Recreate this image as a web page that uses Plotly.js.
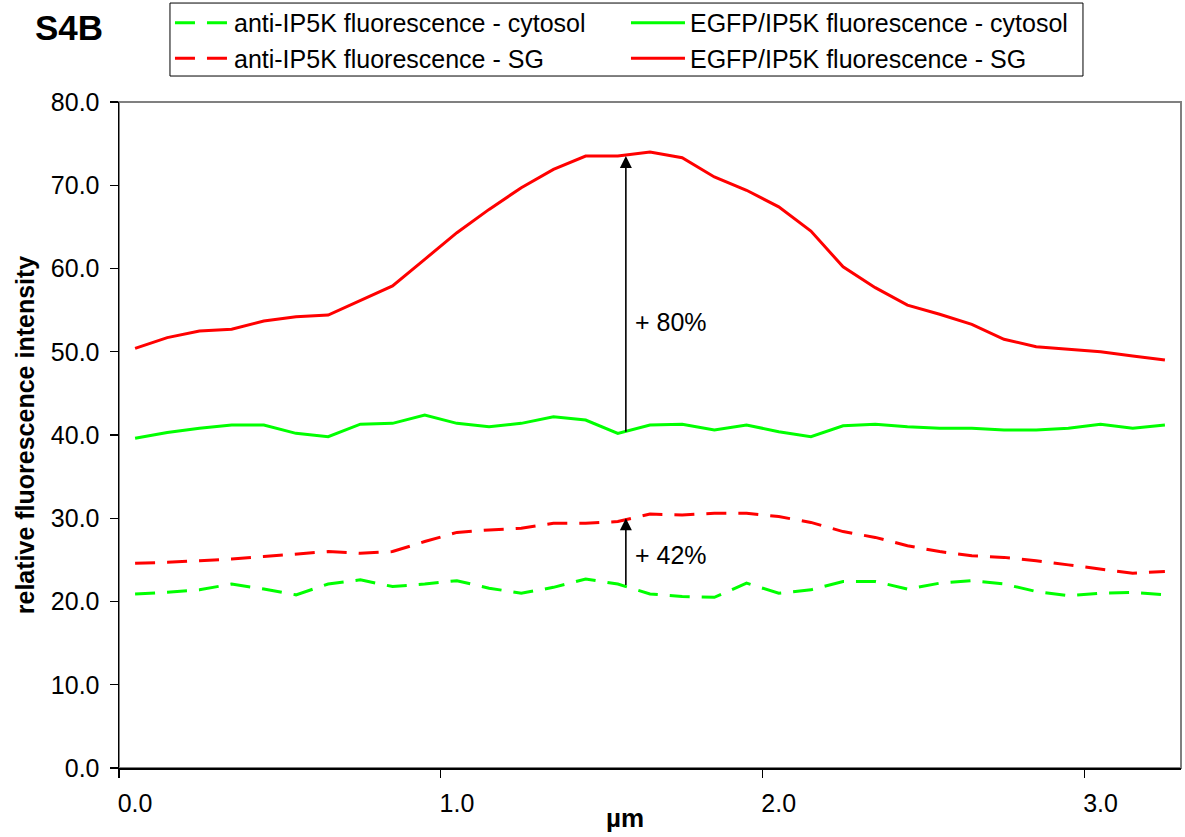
<!DOCTYPE html>
<html><head><meta charset="utf-8">
<script src="https://cdn.plot.ly/plotly-3.0.1.min.js"></script>
<style>html,body{margin:0;padding:0;background:#fff}</style>
</head><body><div id="chart" style="width:1185px;height:837px"></div>
<script>
// distance along the line scan (µm)
const distance = [0.0,0.1,0.2,0.3,0.4,0.5,0.6,0.7,0.8,0.9,1.0,1.1,1.2,1.3,1.4,1.5,1.6,1.7,1.8,1.9,2.0,2.1,2.2,2.3,2.4,2.5,2.6,2.7,2.8,2.9,3.0,3.1,3.2];

const seriesNames = [
  'anti-IP5K fluorescence - cytosol',
  'EGFP/IP5K fluorescence - cytosol',
  'anti-IP5K fluorescence - SG',
  'EGFP/IP5K fluorescence - SG'
];

const antiCytosol = [20.9,21.1,21.4,22.1,21.5,20.8,22.1,22.6,21.8,22.1,22.5,21.6,21.0,21.7,22.7,22.1,20.9,20.6,20.5,22.2,21.0,21.4,22.4,22.4,21.5,22.2,22.5,22.1,21.2,20.7,21.0,21.1,20.8];
const egfpCytosol = [39.6,40.3,40.8,41.2,41.2,40.2,39.8,41.3,41.4,42.4,41.4,41.0,41.4,42.2,41.8,40.2,41.2,41.3,40.6,41.2,40.4,39.8,41.1,41.3,41.0,40.8,40.8,40.6,40.6,40.8,41.3,40.8,41.2];
const antiSG = [24.6,24.7,24.9,25.1,25.4,25.7,26.0,25.8,26.0,27.2,28.3,28.6,28.8,29.4,29.4,29.6,30.5,30.4,30.6,30.6,30.2,29.5,28.4,27.7,26.7,26.0,25.5,25.3,24.9,24.4,23.9,23.4,23.6];
const egfpSG = [50.4,51.7,52.5,52.7,53.7,54.2,54.4,56.2,57.9,61.1,64.3,67.1,69.7,71.9,73.5,73.5,74.0,73.3,71.0,69.4,67.4,64.5,60.2,57.7,55.6,54.5,53.3,51.5,50.6,50.3,50.0,49.5,49.0];

// increase arrows (position in µm, from/to intensity) and their labels
const arrowX = [1.525, 1.525];
const arrowFrom = [40.2, 21.8];
const arrowTo = [73.5, 30.0];
const arrowLabels = ['+ 80%', '+ 42%'];
const arrowLabelY = [53.6, 25.6];

const xTickVals = [0, 1, 2, 3];
const xTickText = ['0.0', '1.0', '2.0', '3.0'];
const yTickVals = [0, 10, 20, 30, 40, 50, 60, 70, 80];

const GREEN = '#00FF00', RED = '#FF0000';
const DASH = '20px,12px';

const traces = [
  {x: distance, y: antiCytosol, name: seriesNames[0], mode: 'lines', line: {color: GREEN, width: 3, dash: DASH}},
  {x: distance, y: egfpCytosol, name: seriesNames[1], mode: 'lines', line: {color: GREEN, width: 3}},
  {x: distance, y: antiSG, name: seriesNames[2], mode: 'lines', line: {color: RED, width: 3, dash: DASH}},
  {x: distance, y: egfpSG, name: seriesNames[3], mode: 'lines', line: {color: RED, width: 3}}
];

const annotations = [];
for (let i = 0; i < arrowX.length; i++) {
  annotations.push({
    x: arrowX[i], y: arrowTo[i], ax: arrowX[i], ay: arrowFrom[i],
    xref: 'x', yref: 'y', axref: 'x', ayref: 'y',
    text: '', showarrow: true, arrowhead: 2, arrowsize: 1.5, arrowwidth: 1.6, arrowcolor: '#000'
  });
  annotations.push({
    x: arrowX[i] + 0.022, y: arrowLabelY[i], xref: 'x', yref: 'y',
    text: arrowLabels[i], showarrow: false, xanchor: 'left', yanchor: 'middle',
    font: {size: 25, color: '#000'}
  });
}
annotations.push({
  x: 0.4765, y: -0.075, xref: 'paper', yref: 'paper',
  text: '<b>µm</b>', showarrow: false, xanchor: 'center', yanchor: 'middle',
  font: {size: 26, color: '#000'}
});

const layout = {
  width: 1185, height: 837,
  margin: {l: 119, r: 4, t: 102, b: 69, autoexpand: false},
  paper_bgcolor: '#fff', plot_bgcolor: '#fff',
  font: {family: '"Liberation Sans", Arial, sans-serif', size: 25, color: '#000'},
  title: {text: '<b>S4B</b>', font: {size: 35, color: '#000'}, x: 0.0295, xanchor: 'left', y: 0.967, yanchor: 'middle'},
  showlegend: true,
  legend: {
    orientation: 'h', x: 0.048, y: 1.1532, xanchor: 'left', yanchor: 'top',
    borderwidth: 0, bgcolor: 'rgba(0,0,0,0)',
    font: {size: 25, color: '#000'},
    itemwidth: 54,
    entrywidth: 387, entrywidthmode: 'pixels', traceorder: 'normal'
  },
  xaxis: {
    range: [-0.05, 3.25], tickmode: 'array', tickvals: xTickVals, ticktext: xTickText,
    ticks: '', showgrid: false, zeroline: false, showline: true, linecolor: '#000', linewidth: 1.5,
    ticklabelstandoff: 12, tickfont: {size: 25},
    minor: {tickmode: 'array', tickvals: [-0.05, 0.95, 1.95, 2.95], ticks: 'outside', ticklen: 8, tickcolor: '#000', tickwidth: 1.2, showgrid: false}
  },
  yaxis: {
    range: [0, 80], tickmode: 'array', tickvals: yTickVals, tickformat: '.1f',
    ticks: 'outside', ticklen: 8, tickcolor: '#000', tickwidth: 1.2,
    showgrid: false, zeroline: false, showline: true, linecolor: '#000', linewidth: 1.5,
    ticklabelstandoff: 5, tickfont: {size: 25},
    title: {text: '<b>relative fluorescence intensity</b>', font: {size: 25}, standoff: 9}
  },
  shapes: [
    {type: 'rect', xref: 'paper', yref: 'paper', x0: 0, x1: 1, y0: 0, y1: 1, line: {color: '#808080', width: 2}, layer: 'below'},
    {type: 'rect', xref: 'paper', yref: 'paper', x0: 0.048, x1: 0.9077, y0: 1.039, y1: 1.1486, line: {color: '#000', width: 1}, layer: 'below'}
  ],
  annotations: annotations
};

Plotly.newPlot('chart', traces, layout, {displayModeBar: false, staticPlot: true});
</script>
</body></html>
